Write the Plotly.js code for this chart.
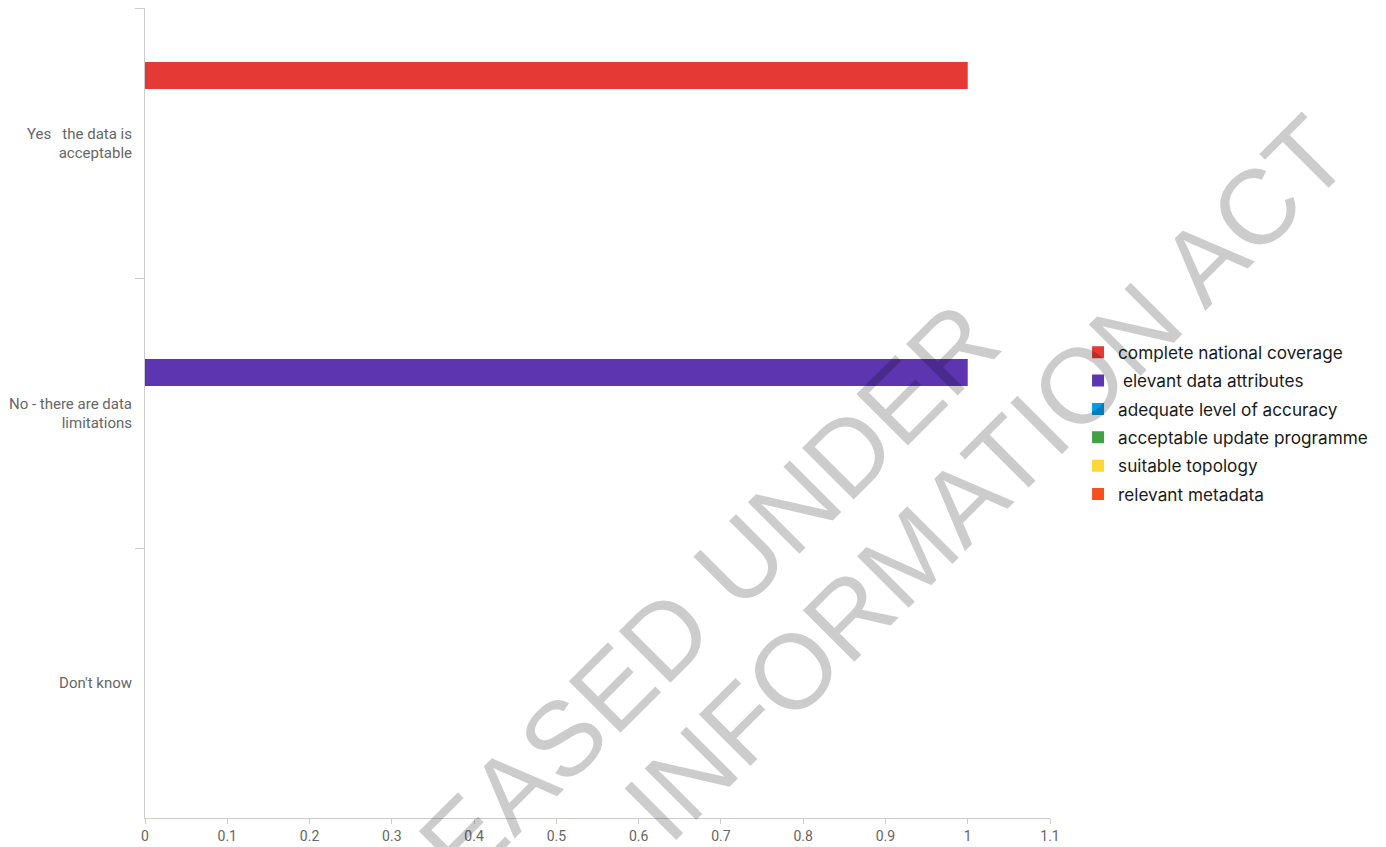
<!DOCTYPE html>
<html>
<head>
<meta charset="utf-8">
<script src="https://cdn.plot.ly/plotly-3.0.1.min.js"></script>
<style>
  html, body { margin: 0; padding: 0; background: #fff; }
  #chart { width: 1386px; height: 847px; }
</style>
</head>
<body>
<div id="chart"></div>
<script>
// Categories (top to bottom)
const categories = [
  "Yes &nbsp; the data is<br>acceptable",
  "No - there are data<br>limitations",
  "Don't know"
];

// Series names (legend order)
const seriesNames = [
  "complete national coverage",
  " elevant data attributes",
  "adequate level of accuracy",
  "acceptable update programme",
  "suitable topology",
  "relevant metadata"
];

// Values per series, one value per category
const completeNationalCoverage = [1, 0, 0];
const elevantDataAttributes   = [0, 1, 0];
const adequateLevelOfAccuracy = [0, 0, 0];
const acceptableUpdateProgramme = [0, 0, 0];
const suitableTopology        = [0, 0, 0];
const relevantMetadata        = [0, 0, 0];

const seriesValues = [
  completeNationalCoverage,
  elevantDataAttributes,
  adequateLevelOfAccuracy,
  acceptableUpdateProgramme,
  suitableTopology,
  relevantMetadata
];

const seriesColors = ["#E53935", "#5E35B1", "#039BE5", "#43A047", "#FDD835", "#F4511E"];

// X tick values
const xTicks = [0, 0.1, 0.2, 0.3, 0.4, 0.5, 0.6, 0.7, 0.8, 0.9, 1, 1.1];

// Watermark text lines
const watermarkLines = ["RELEASED UNDER", "INFORMATION ACT"];

const traces = seriesNames.map((name, i) => ({
  type: "bar",
  orientation: "h",
  name: name,
  y: categories,
  x: seriesValues[i],
  marker: { color: seriesColors[i] },
  legendgroup: "g" + i,
  hoverinfo: "x+name"
}));

const layout = {
  width: 1386,
  height: 847,
  margin: { l: 145, r: 336, t: 8, b: 29, pad: 0 },
  paper_bgcolor: "#ffffff",
  plot_bgcolor: "#ffffff",
  font: { family: "Roboto, 'Liberation Sans', sans-serif", size: 14, color: "#666666" },
  barmode: "group",
  bargap: 0.4,
  bargroupgap: 0,
  showlegend: true,
  legend: {
    x: 1.031, xanchor: "left",
    y: 0.487, yanchor: "middle",
    font: { family: "Inter, 'Noto Sans', sans-serif", size: 17.2, color: "#1a1a1a" },
    tracegroupgap: 3,
    itemclick: false,
    bgcolor: "rgba(0,0,0,0)"
  },
  xaxis: {
    range: [0, 1.1],
    tickvals: xTicks,
    ticktext: xTicks.map(v => String(v)),
    showgrid: false,
    zeroline: false,
    showline: true,
    linecolor: "#cccccc",
    linewidth: 1,
    ticks: "outside",
    ticklen: 5,
    tickcolor: "#cccccc",
    tickfont: { size: 14, color: "#666666" },
    fixedrange: true
  },
  yaxis: {
    type: "category",
    autorange: "reversed",
    showgrid: false,
    zeroline: false,
    showline: true,
    linecolor: "#cccccc",
    linewidth: 1,
    ticks: "outside",
    tickson: "boundaries",
    ticklen: 9,
    tickcolor: "#cccccc",
    tickfont: { size: 15, color: "#666666" },
    ticklabelstandoff: 9,
    fixedrange: true
  },
  annotations: [
    {
      text: watermarkLines[0],
      xref: "paper", yref: "paper",
      x: 0.5425, y: 0.1889,
      xanchor: "center", yanchor: "middle",
      textangle: -45,
      showarrow: false,
      font: { family: "'Liberation Sans', Arial, sans-serif", size: 106, color: "rgba(0,0,0,0.2)" }
    },
    {
      text: watermarkLines[1],
      xref: "paper", yref: "paper",
      x: 0.9293, y: 0.4198,
      xanchor: "center", yanchor: "middle",
      textangle: -45,
      showarrow: false,
      font: { family: "'Liberation Sans', Arial, sans-serif", size: 106, color: "rgba(0,0,0,0.2)" }
    }
  ]
};

Plotly.newPlot("chart", traces, layout, { displayModeBar: false, staticPlot: true });
</script>
</body>
</html>
